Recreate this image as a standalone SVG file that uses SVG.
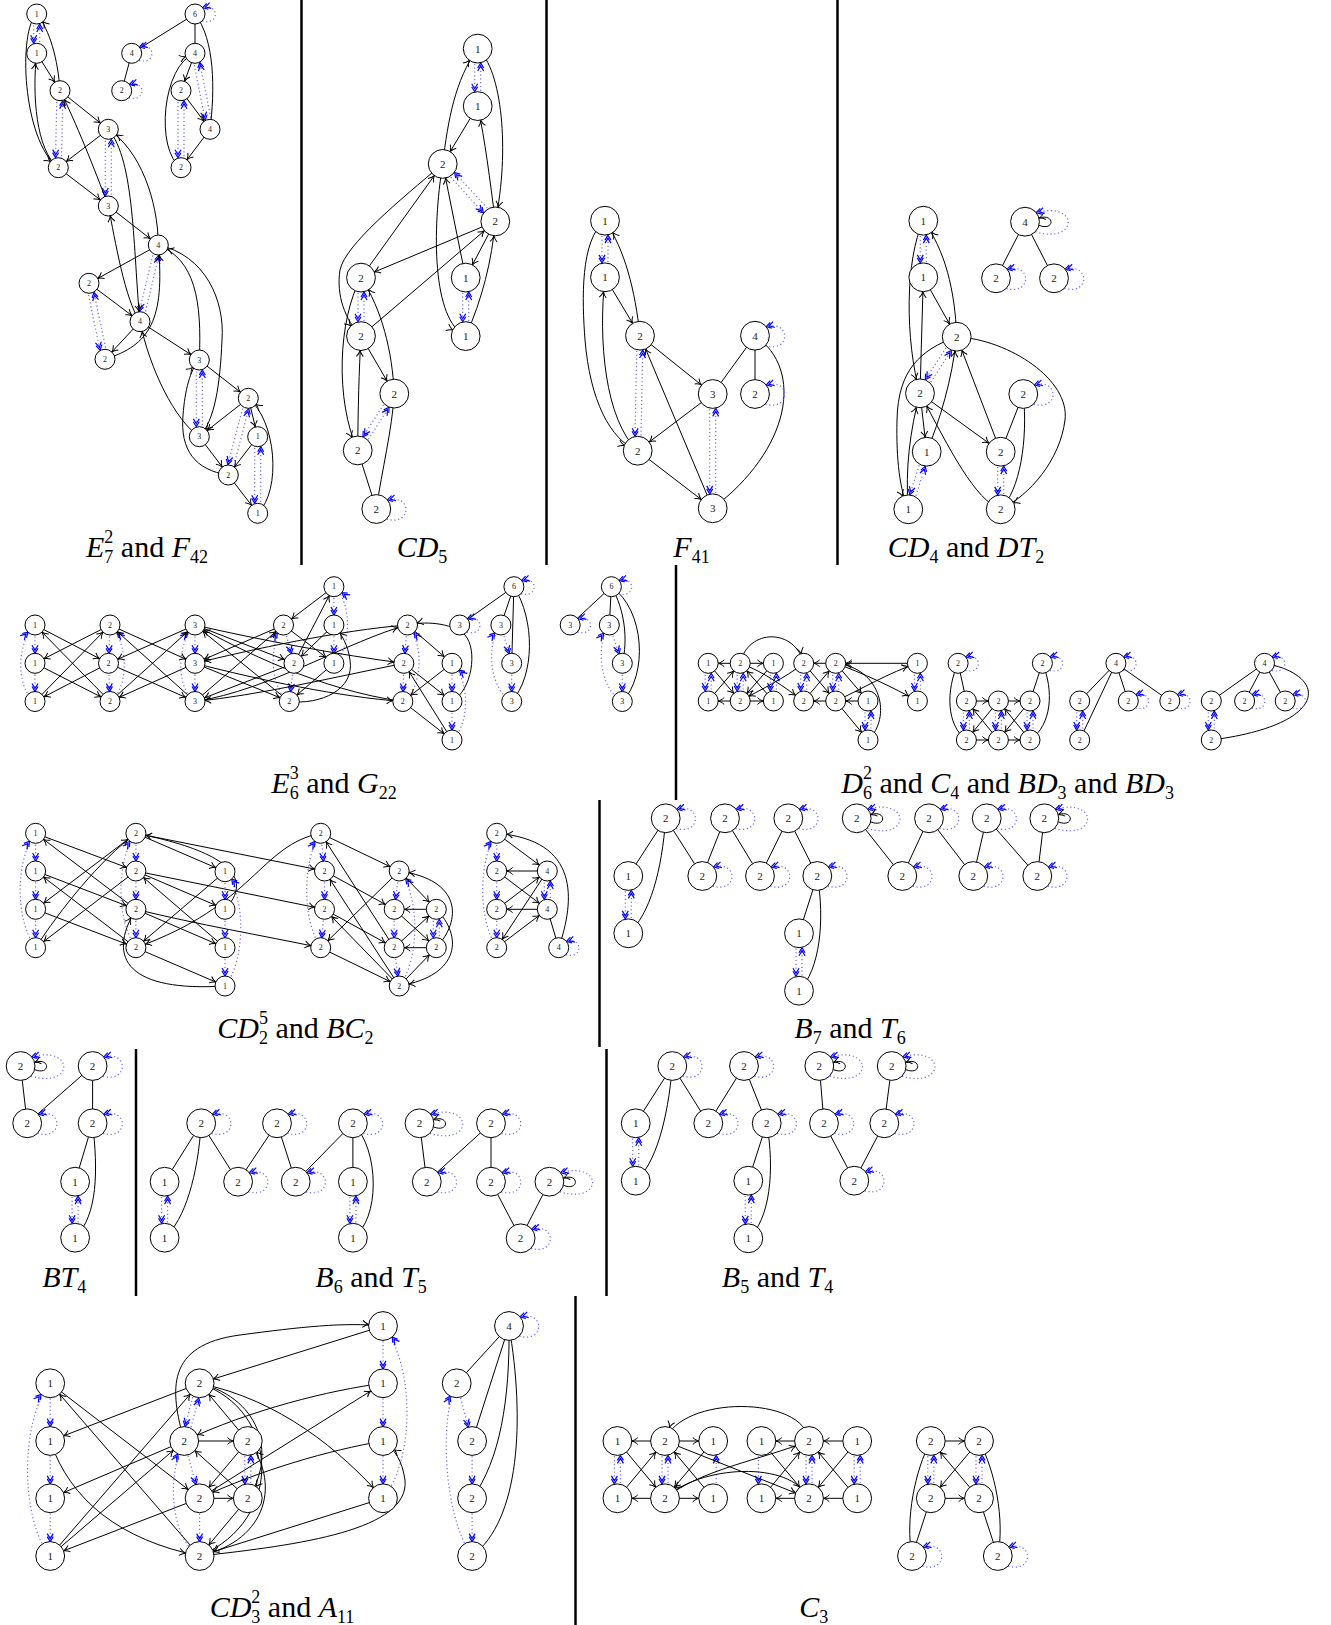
<svg xmlns="http://www.w3.org/2000/svg" xmlns:xlink="http://www.w3.org/1999/xlink" width="1331" height="1625" viewBox="0 0 1331 1625">
<style>
.e{fill:none;stroke:#000;stroke-width:1}
.s{marker-end:url(#as)}
.b{marker-end:url(#ab)}
.u{fill:none;stroke:#000;stroke-width:1}
.d{fill:none;stroke:#6a6aff;stroke-width:1.2;stroke-dasharray:1.2 2.6}
.ds{marker-end:url(#bs)}
.db{marker-end:url(#bb)}
.nd circle{fill:#fff;stroke:#000;stroke-width:1}
.nd text{font-family:"Liberation Serif",serif;text-anchor:middle;dominant-baseline:central;fill:#222}
.f8{font-size:8px}
.f11{font-size:11px}
.cap{font-family:"Liberation Serif",serif;font-size:30px;text-anchor:middle;fill:#000}
.i{font-style:italic}
.sb{font-size:18px}
.dv{stroke:#000;stroke-width:2.5}
</style>
<defs>
<marker id="as" markerUnits="userSpaceOnUse" markerWidth="30" markerHeight="14" viewBox="-15 -7 30 14" refX="10" refY="0" orient="auto"><path d="M-6,-3.5 C-4,-1.4 -1.5,-0.4 0,0 C-1.5,0.4 -4,1.4 -6,3.5" fill="none" stroke="#000" stroke-width="1"/></marker>
<marker id="ab" markerUnits="userSpaceOnUse" markerWidth="40" markerHeight="14" viewBox="-20 -7 40 14" refX="14.4" refY="0" orient="auto"><path d="M-6,-3.5 C-4,-1.4 -1.5,-0.4 0,0 C-1.5,0.4 -4,1.4 -6,3.5" fill="none" stroke="#000" stroke-width="1"/></marker>
<marker id="a0" markerUnits="userSpaceOnUse" markerWidth="20" markerHeight="14" viewBox="-10 -7 20 14" refX="0" refY="0" orient="auto"><path d="M-6,-3.5 C-4,-1.4 -1.5,-0.4 0,0 C-1.5,0.4 -4,1.4 -6,3.5" fill="none" stroke="#000" stroke-width="1"/></marker>
<marker id="bs" markerUnits="userSpaceOnUse" markerWidth="30" markerHeight="14" viewBox="-15 -7 30 14" refX="10" refY="0" orient="auto"><path d="M-5,-3 L0,0 L-5,3 M-8,-3 L-3,0 L-8,3" fill="none" stroke="#0000ff" stroke-width="1.2"/></marker>
<marker id="bb" markerUnits="userSpaceOnUse" markerWidth="40" markerHeight="14" viewBox="-20 -7 40 14" refX="14.4" refY="0" orient="auto"><path d="M-5,-3 L0,0 L-5,3 M-8,-3 L-3,0 L-8,3" fill="none" stroke="#0000ff" stroke-width="1.2"/></marker>
<marker id="b0" markerUnits="userSpaceOnUse" markerWidth="20" markerHeight="14" viewBox="-10 -7 20 14" refX="0" refY="0" orient="auto"><path d="M-5,-3 L0,0 L-5,3 M-8,-3 L-3,0 L-8,3" fill="none" stroke="#0000ff" stroke-width="1.2"/></marker>
<path id="LS" d="M7.2,7 C24.5,12 24.5,-11 7.7,-6.3" fill="none" stroke="#6a6aff" stroke-width="1.2" stroke-dasharray="1.2 2.6" marker-end="url(#b0)"/>
<path id="LB" d="M10.4,10.1 C36,17.3 36,-15.8 11.2,-9.1" fill="none" stroke="#6a6aff" stroke-width="1.2" stroke-dasharray="1.2 2.6" marker-end="url(#b0)"/>
<path id="LW" d="M10.4,10.1 C54,23 54,-21 11.2,-9.1" fill="none" stroke="#6a6aff" stroke-width="1.2" stroke-dasharray="1.2 2.6" marker-end="url(#b0)"/>
<path id="SL" d="M14,3.6 C30,10 30,-9 14,-3.6" fill="none" stroke="#000" stroke-width="1" marker-end="url(#a0)"/>
</defs>
<rect width="1331" height="1625" fill="#fff"/>
<g id="dividers">
<line class="dv" x1="301.5" y1="0" x2="301.5" y2="565"/>
<line class="dv" x1="546.5" y1="0" x2="546.5" y2="565"/>
<line class="dv" x1="837.5" y1="0" x2="837.5" y2="565"/>
<line class="dv" x1="676" y1="565" x2="676" y2="800"/>
<line class="dv" x1="599.5" y1="800" x2="599.5" y2="1047"/>
<line class="dv" x1="136" y1="1049" x2="136" y2="1296"/>
<line class="dv" x1="606.5" y1="1049" x2="606.5" y2="1296"/>
<line class="dv" x1="575.5" y1="1296" x2="575.5" y2="1625"/>
</g>
<g id="connectors">
<!-- E7^2 -->
<line class="d ds" x1="33.7" y1="14" x2="33.7" y2="53.3"/><line class="d ds" x1="39.7" y1="53.3" x2="39.7" y2="14"/>
<line class="d ds" x1="57" y1="90.7" x2="55.3" y2="167.7"/><line class="d ds" x1="61.3" y1="167.7" x2="63" y2="90.7"/>
<line class="d ds" x1="105.3" y1="129.3" x2="105.3" y2="206"/><line class="d ds" x1="111.3" y1="206" x2="111.3" y2="129.3"/>
<line class="d ds" x1="155.4" y1="244.3" x2="137.1" y2="321"/><line class="d ds" x1="142.9" y1="322.4" x2="161.2" y2="245.7"/>
<line class="d ds" x1="86.1" y1="283.9" x2="102.1" y2="359.9"/><line class="d ds" x1="107.9" y1="358.7" x2="91.9" y2="282.7"/>
<line class="d ds" x1="196.3" y1="360" x2="196.3" y2="436.7"/><line class="d ds" x1="202.3" y1="436.7" x2="202.3" y2="360"/>
<line class="d ds" x1="245.4" y1="397.5" x2="225.4" y2="474.2"/><line class="d ds" x1="231.2" y1="475.8" x2="251.2" y2="399.1"/>
<line class="d ds" x1="254.7" y1="436.7" x2="254.7" y2="513.3"/><line class="d ds" x1="260.7" y1="513.3" x2="260.7" y2="436.7"/>
<path class="e s" d="M36.7,14 C18,30 22,140 58.3,167.7"/>
<path class="e s" d="M60,90.7 C58,60 50,30 36.7,14"/>
<line class="e s" x1="36.7" y1="53.3" x2="60" y2="90.7"/>
<path class="e s" d="M58.3,167.7 C36,150 32,95 36.7,53.3"/>
<line class="e s" x1="60" y1="90.7" x2="108.3" y2="129.3"/>
<line class="e s" x1="108.3" y1="129.3" x2="58.3" y2="167.7"/>
<line class="e s" x1="58.3" y1="167.7" x2="108.3" y2="206"/>
<path class="e s" d="M108.3,206 C95,170 75,120 60,90.7"/>
<line class="e s" x1="108.3" y1="206" x2="158.3" y2="245"/>
<path class="e s" d="M158.3,245 C158,200 140,150 108.3,129.3"/>
<path class="e s" d="M108.3,129.3 C135,160 133,250 140,321.7"/>
<path class="e s" d="M140,321.7 C125,300 115,240 108.3,206"/>
<line class="e s" x1="158.3" y1="245" x2="89" y2="283.3"/>
<line class="e s" x1="89" y1="283.3" x2="140" y2="321.7"/>
<line class="e s" x1="140" y1="321.7" x2="105" y2="359.3"/>
<path class="e s" d="M105,359.3 C150,345 165,320 158.3,245"/>
<line class="e s" x1="140" y1="321.7" x2="199.3" y2="360"/>
<path class="e s" d="M199.3,360 C202,300 195,260 158.3,245"/>
<path class="e s" d="M158.3,245 C205,255 225,300 222,340 C220,385 215,420 199.3,436.7"/>
<line class="e s" x1="199.3" y1="360" x2="248.3" y2="398.3"/>
<line class="e s" x1="248.3" y1="398.3" x2="199.3" y2="436.7"/>
<line class="e s" x1="248.3" y1="398.3" x2="257.7" y2="436.7"/>
<line class="e s" x1="257.7" y1="436.7" x2="228.3" y2="475"/>
<line class="e s" x1="199.3" y1="436.7" x2="228.3" y2="475"/>
<path class="e s" d="M228.3,475 C195,470 180,450 183,415 C185,390 190,370 199.3,360"/>
<line class="e s" x1="228.3" y1="475" x2="257.7" y2="513.3"/>
<path class="e s" d="M257.7,513.3 C282,490 276,420 248.3,398.3"/>
<path class="e s" d="M199.3,436.7 C175,420 150,370 140,321.7"/>
<!-- F42 -->
<line class="d ds" x1="192.1" y1="53.9" x2="207.1" y2="129.9"/><line class="d ds" x1="212.9" y1="128.7" x2="197.9" y2="52.7"/>
<line class="d ds" x1="178" y1="90.7" x2="178" y2="167.7"/><line class="d ds" x1="184" y1="167.7" x2="184" y2="90.7"/>
<line class="u" x1="195" y1="14" x2="131.7" y2="53.3"/>
<line class="u" x1="131.7" y1="53.3" x2="121.7" y2="90.7"/>
<line class="u" x1="195" y1="14" x2="195" y2="53.3"/>
<path class="u" d="M195,14 C215,40 215,90 210,129.3"/>
<line class="e s" x1="195" y1="53.3" x2="181" y2="90.7"/>
<line class="e s" x1="181" y1="90.7" x2="210" y2="129.3"/>
<line class="e s" x1="210" y1="129.3" x2="181" y2="167.7"/>
<path class="e s" d="M181,167.7 C155,150 162,65 195,53.3"/>
<use href="#LS" x="195" y="14"/><use href="#LS" x="131.7" y="53.3"/><use href="#LS" x="121.7" y="90.7"/>
<!-- CD5 -->
<line class="d db" x1="474.7" y1="48.6" x2="474.7" y2="106.1"/><line class="d db" x1="480.7" y1="106.1" x2="480.7" y2="48.6"/>
<path class="e b" d="M442.7,163.9 C448,120 455,80 477.7,48.6"/>
<path class="e b" d="M477.7,48.6 C502,70 510,150 495.3,221.4"/>
<line class="e b" x1="477.7" y1="106.1" x2="442.7" y2="163.9"/>
<path class="e b" d="M495.3,221.4 C490,180 485,140 477.7,106.1"/>
<line class="d db" x1="440.5" y1="165.9" x2="493.1" y2="223.4"/><line class="d db" x1="497.5" y1="219.4" x2="444.9" y2="161.9"/>
<path class="e b" d="M442.7,163.9 C400,200 345,245 340,270 C336,295 345,320 361,336.1"/>
<line class="e b" x1="361" y1="277.6" x2="442.7" y2="163.9"/>
<line class="e b" x1="495.3" y1="221.4" x2="361" y2="277.6"/>
<line class="e b" x1="361" y1="336.1" x2="495.3" y2="221.4"/>
<line class="e b" x1="495.3" y1="221.4" x2="465.7" y2="277.6"/>
<path class="e b" d="M465.7,336.1 C482,300 492,260 495.3,221.4"/>
<path class="e b" d="M465.7,277.6 C458,240 450,200 442.7,163.9"/>
<path class="e b" d="M442.7,163.9 C432,230 432,320 465.7,336.1"/>
<line class="d db" x1="462.7" y1="277.6" x2="462.7" y2="336.1"/><line class="d db" x1="468.7" y1="336.1" x2="468.7" y2="277.6"/>
<line class="d db" x1="358" y1="277.6" x2="358" y2="336.1"/><line class="d db" x1="364" y1="336.1" x2="364" y2="277.6"/>
<path class="e b" d="M361,277.6 C338,320 335,400 357.7,450.4"/>
<line class="e b" x1="361" y1="336.1" x2="394.3" y2="393.6"/>
<path class="e b" d="M394.3,393.6 C392,350 382,310 361,277.6"/>
<path class="e b" d="M357.7,450.4 C358,410 359,370 361,336.1"/>
<line class="d db" x1="391.8" y1="392" x2="355.2" y2="448.8"/><line class="d db" x1="360.2" y1="452" x2="396.8" y2="395.2"/>
<line class="u" x1="357.7" y1="450.4" x2="376.3" y2="509"/>
<path class="u" d="M376.3,509 C382,470 392,430 394.3,393.6"/>
<use href="#LB" x="376.3" y="509"/>
<!-- F41 -->
<line class="d db" x1="602" y1="220.7" x2="602" y2="277.3"/><line class="d db" x1="608" y1="277.3" x2="608" y2="220.7"/>
<path class="e b" d="M605,220.7 C580,240 582,300 585,340 C590,400 610,440 637.7,450.7"/>
<path class="e b" d="M640,335.7 C635,290 625,250 605,220.7"/>
<line class="e b" x1="605" y1="277.3" x2="640" y2="335.7"/>
<path class="e b" d="M637.7,450.7 C605,420 598,340 605,277.3"/>
<line class="d db" x1="637" y1="335.7" x2="634.7" y2="450.7"/><line class="d db" x1="640.7" y1="450.7" x2="643" y2="335.7"/>
<line class="e b" x1="640" y1="335.7" x2="712.7" y2="394"/>
<line class="e b" x1="712.7" y1="394" x2="637.7" y2="450.7"/>
<line class="e b" x1="637.7" y1="450.7" x2="712.7" y2="508.3"/>
<line class="e b" x1="712.7" y1="508.3" x2="640" y2="335.7"/>
<line class="d db" x1="709.7" y1="394" x2="709.7" y2="508.3"/><line class="d db" x1="715.7" y1="508.3" x2="715.7" y2="394"/>
<line class="u" x1="755" y1="335.7" x2="712.7" y2="394"/>
<line class="u" x1="755" y1="335.7" x2="755" y2="394"/>
<path class="u" d="M755,335.7 C805,370 790,450 712.7,508.3"/>
<use href="#LB" x="755" y="335.7"/><use href="#LB" x="755" y="394"/>
<!-- CD4 -->
<line class="d db" x1="920.3" y1="220.7" x2="920.3" y2="277.3"/><line class="d db" x1="926.3" y1="277.3" x2="926.3" y2="220.7"/>
<path class="e b" d="M923.3,220.7 C905,260 905,340 920,393.3"/>
<path class="e b" d="M956.7,336.7 C955,290 945,250 923.3,220.7"/>
<line class="e b" x1="923.3" y1="277.3" x2="956.7" y2="336.7"/>
<line class="e b" x1="920" y1="393.3" x2="923.3" y2="277.3"/>
<line class="d db" x1="954.2" y1="335.1" x2="917.5" y2="391.7"/><line class="d db" x1="922.5" y1="394.9" x2="959.2" y2="338.3"/>
<path class="e b" d="M956.7,336.7 C920,350 898,370 897,420 C896,460 900,490 908.3,509.3"/>
<path class="e b" d="M926.7,451.7 C940,420 952,380 956.7,336.7"/>
<line class="e b" x1="920" y1="393.3" x2="926.7" y2="451.7"/>
<path class="e b" d="M908.3,509.3 C905,470 910,430 920,393.3"/>
<line class="d db" x1="923.8" y1="450.8" x2="905.4" y2="508.4"/><line class="d db" x1="911.2" y1="510.2" x2="929.6" y2="452.6"/>
<line class="e b" x1="920" y1="393.3" x2="1000.7" y2="451.7"/>
<line class="e b" x1="1000.7" y1="451.7" x2="956.7" y2="336.7"/>
<path class="e b" d="M1000.7,509.3 C975,500 950,450 920,393.3"/>
<path class="e b" d="M956.7,336.7 C1010,340 1070,380 1065,420 C1060,460 1030,495 1000.7,509.3"/>
<line class="d db" x1="997.7" y1="451.7" x2="997.7" y2="509.3"/><line class="d db" x1="1003.7" y1="509.3" x2="1003.7" y2="451.7"/>
<line class="u" x1="1023.3" y1="394" x2="1000.7" y2="451.7"/>
<path class="u" d="M1023.3,394 C1028,440 1020,490 1000.7,509.3"/>
<use href="#LB" x="1023.3" y="394"/>
<!-- DT2 -->
<line class="u" x1="1025" y1="221.7" x2="996" y2="278.3"/><line class="u" x1="1025" y1="221.7" x2="1054" y2="278.3"/>
<use href="#SL" x="1025" y="221.7"/><use href="#LW" x="1025" y="221.7"/><use href="#LB" x="996" y="278.3"/><use href="#LB" x="1054" y="278.3"/>
<!-- E6^3 -->
<line class="d ds" x1="35" y1="625" x2="35" y2="663.3"/><line class="d ds" x1="35" y1="663.3" x2="35" y2="701.5"/><path class="d ds" d="M35,701.5 C17,690 15,645 35,625"/>
<line class="d ds" x1="110" y1="625" x2="108.5" y2="663.3"/><line class="d ds" x1="108.5" y1="663.3" x2="110" y2="701.5"/><path class="d ds" d="M110,701.5 C128,690 130,645 110,625"/>
<line class="d ds" x1="195" y1="625" x2="195" y2="663.3"/><line class="d ds" x1="195" y1="663.3" x2="195" y2="701.5"/><path class="d ds" d="M195,701.5 C177,690 175,645 195,625"/>
<line class="d ds" x1="283.5" y1="625" x2="294" y2="663.3"/><line class="d ds" x1="294" y1="663.3" x2="289.3" y2="701.5"/><path class="d ds" d="M289.3,701.5 C270,690 268,645 283.5,625"/>
<line class="d ds" x1="333.9" y1="586.7" x2="333.9" y2="625"/><line class="d ds" x1="333.9" y1="625" x2="333.9" y2="663.3"/><path class="d ds" d="M333.9,663.3 C352,650 352,600 333.9,586.7"/>
<line class="d ds" x1="407.5" y1="625" x2="403.8" y2="663.3"/><line class="d ds" x1="403.8" y1="663.3" x2="402.8" y2="701.5"/><path class="d ds" d="M402.8,701.5 C422,690 425,645 407.5,625"/>
<line class="d ds" x1="452" y1="663.3" x2="452" y2="701.5"/><line class="d ds" x1="452" y1="701.5" x2="452" y2="740"/><path class="d ds" d="M452,740 C470,725 470,680 452,663.3"/>
<line class="e s" x1="35" y1="625" x2="108.5" y2="663.3"/>
<line class="e s" x1="110" y1="625" x2="35" y2="663.3"/>
<line class="e s" x1="35" y1="663.3" x2="110" y2="701.5"/>
<line class="e s" x1="108.5" y1="663.3" x2="35" y2="701.5"/>
<line class="e s" x1="35" y1="701.5" x2="110" y2="625"/>
<line class="e s" x1="110" y1="701.5" x2="35" y2="625"/>
<line class="e s" x1="195" y1="625" x2="108.5" y2="663.3"/>
<line class="e s" x1="110" y1="625" x2="195" y2="663.3"/>
<line class="e s" x1="195" y1="663.3" x2="110" y2="701.5"/>
<line class="e s" x1="108.5" y1="663.3" x2="195" y2="701.5"/>
<line class="e s" x1="195" y1="701.5" x2="110" y2="625"/>
<line class="e s" x1="110" y1="701.5" x2="195" y2="625"/>
<line class="e s" x1="195" y1="625" x2="294" y2="663.3"/>
<path class="e s" d="M195,625 C260,640 340,655 403.8,663.3"/>
<line class="e s" x1="283.5" y1="625" x2="195" y2="663.3"/>
<path class="e s" d="M407.5,625 C340,630 250,650 195,663.3"/>
<line class="e s" x1="195" y1="663.3" x2="289.3" y2="701.5"/>
<path class="e s" d="M195,663.3 C260,680 340,697 402.8,701.5"/>
<line class="e s" x1="294" y1="663.3" x2="195" y2="701.5"/>
<path class="e s" d="M403.8,663.3 C330,678 260,695 195,701.5"/>
<line class="e s" x1="195" y1="701.5" x2="283.5" y2="625"/>
<path class="e s" d="M195,701.5 C270,690 350,640 407.5,625"/>
<line class="e s" x1="289.3" y1="701.5" x2="195" y2="625"/>
<path class="e s" d="M402.8,701.5 C320,690 240,650 195,625"/>
<line class="e s" x1="333.9" y1="586.7" x2="283.5" y2="625"/>
<line class="e s" x1="283.5" y1="625" x2="333.9" y2="663.3"/>
<line class="e s" x1="333.9" y1="625" x2="294" y2="663.3"/>
<line class="e s" x1="294" y1="663.3" x2="333.9" y2="586.7"/>
<line class="e s" x1="333.9" y1="663.3" x2="289.3" y2="701.5"/>
<path class="e s" d="M289.3,701.5 C320,705 355,690 350,660 C348,645 342,635 333.9,625"/>
<line class="e s" x1="407.5" y1="625" x2="452" y2="663.3"/>
<line class="e s" x1="452" y1="663.3" x2="402.8" y2="701.5"/>
<line class="e s" x1="403.8" y1="663.3" x2="452" y2="701.5"/>
<line class="e s" x1="452" y1="740" x2="403.8" y2="663.3"/>
<line class="e s" x1="402.8" y1="701.5" x2="452" y2="740"/>
<path class="e s" d="M452,701.5 C472,690 478,650 465,635 C455,625 430,620 407.5,625"/>
<!-- G22 -->
<line class="u" x1="513.9" y1="586.7" x2="459.7" y2="625"/>
<line class="u" x1="513.9" y1="586.7" x2="500.9" y2="625"/>
<line class="u" x1="513.9" y1="586.7" x2="511.7" y2="663.3"/>
<path class="u" d="M513.9,586.7 C535,620 535,675 511.7,701.5"/>
<line class="d ds" x1="500.9" y1="625" x2="511.7" y2="663.3"/><line class="d ds" x1="511.7" y1="663.3" x2="511.7" y2="701.5"/><path class="d ds" d="M511.7,701.5 C490,690 485,645 500.9,625"/>
<use href="#LS" x="513.9" y="586.7"/><use href="#LS" x="459.7" y="625"/>
<line class="u" x1="611.4" y1="586.7" x2="570.2" y2="625"/>
<line class="u" x1="611.4" y1="586.7" x2="609.3" y2="625"/>
<path class="u" d="M611.4,586.7 C625,610 628,640 622.3,663.3"/>
<path class="u" d="M611.4,586.7 C645,610 648,675 622.3,701.5"/>
<line class="d ds" x1="609.3" y1="625" x2="622.3" y2="663.3"/><line class="d ds" x1="622.3" y1="663.3" x2="622.3" y2="701.5"/><path class="d ds" d="M622.3,701.5 C600,690 595,645 609.3,625"/>
<use href="#LS" x="611.4" y="586.7"/><use href="#LS" x="570.2" y="625"/>
<!-- D6^2 -->
<line class="e s" x1="740.2" y1="663.3" x2="708.2" y2="663.3"/>
<line class="e s" x1="740.2" y1="663.3" x2="773.4" y2="663.3"/>
<line class="e s" x1="740.2" y1="701" x2="708.2" y2="701"/>
<line class="e s" x1="740.2" y1="701" x2="773.4" y2="701"/>
<line class="d ds" x1="705.2" y1="663.3" x2="705.2" y2="701"/><line class="d ds" x1="711.2" y1="701" x2="711.2" y2="663.3"/>
<line class="d ds" x1="737.2" y1="663.3" x2="737.2" y2="701"/><line class="d ds" x1="743.2" y1="701" x2="743.2" y2="663.3"/>
<line class="d ds" x1="770.4" y1="663.3" x2="770.4" y2="701"/><line class="d ds" x1="776.4" y1="701" x2="776.4" y2="663.3"/>
<line class="e s" x1="708.2" y1="663.3" x2="740.2" y2="701"/>
<line class="e s" x1="708.2" y1="701" x2="740.2" y2="663.3"/>
<line class="e s" x1="773.4" y1="663.3" x2="740.2" y2="701"/>
<line class="e s" x1="773.4" y1="701" x2="740.2" y2="663.3"/>
<path class="e s" d="M740.2,663.3 C748,628 795,628 803.7,663.3"/>
<line class="e s" x1="835.7" y1="663.3" x2="803.7" y2="663.3"/>
<line class="e s" x1="835.7" y1="701" x2="803.7" y2="701"/>
<line class="d ds" x1="800.7" y1="663.3" x2="800.7" y2="701"/><line class="d ds" x1="806.7" y1="701" x2="806.7" y2="663.3"/>
<line class="d ds" x1="832.7" y1="663.3" x2="832.7" y2="701"/><line class="d ds" x1="838.7" y1="701" x2="838.7" y2="663.3"/>
<path class="e s" d="M803.7,663.3 C785,678 760,690 740.2,701"/>
<path class="e s" d="M740.2,663.3 C765,672 785,688 803.7,701"/>
<line class="e s" x1="803.7" y1="663.3" x2="835.7" y2="701"/>
<line class="e s" x1="803.7" y1="701" x2="835.7" y2="663.3"/>
<line class="e s" x1="917.4" y1="663.3" x2="835.7" y2="663.3"/>
<line class="e s" x1="835.7" y1="663.3" x2="868" y2="701"/>
<line class="e s" x1="868" y1="701" x2="835.7" y2="701"/>
<path class="e s" d="M835.7,701 C860,690 890,672 917.4,663.3"/>
<path class="e s" d="M835.7,663.3 C860,672 895,688 917.4,701"/>
<line class="e s" x1="835.7" y1="701" x2="868" y2="740"/>
<path class="e s" d="M868,740 C892,718 882,668 835.7,663.3"/>
<line class="d ds" x1="865" y1="701" x2="865" y2="740"/><line class="d ds" x1="871" y1="740" x2="871" y2="701"/>
<line class="d ds" x1="914.4" y1="663.3" x2="914.4" y2="701"/><line class="d ds" x1="920.4" y1="701" x2="920.4" y2="663.3"/>
<!-- C4 -->
<line class="u" x1="958.1" y1="663.3" x2="966.4" y2="701"/>
<path class="u" d="M958.1,663.3 C946,690 946,725 966.4,740"/>
<line class="u" x1="1042.4" y1="663.3" x2="1030" y2="701"/>
<path class="u" d="M1042.4,663.3 C1054,690 1052,725 1030,740"/>
<line class="e s" x1="966.4" y1="701" x2="998.4" y2="701"/>
<line class="e s" x1="998.4" y1="701" x2="1030" y2="701"/>
<line class="e s" x1="966.4" y1="740" x2="998.4" y2="740"/>
<line class="e s" x1="998.4" y1="740" x2="1030" y2="740"/>
<line class="d ds" x1="963.4" y1="701" x2="963.4" y2="740"/><line class="d ds" x1="969.4" y1="740" x2="969.4" y2="701"/>
<line class="d ds" x1="995.4" y1="701" x2="995.4" y2="740"/><line class="d ds" x1="1001.4" y1="740" x2="1001.4" y2="701"/>
<line class="d ds" x1="1027" y1="701" x2="1027" y2="740"/><line class="d ds" x1="1033" y1="740" x2="1033" y2="701"/>
<line class="e s" x1="998.4" y1="701" x2="966.4" y2="740"/>
<line class="e s" x1="998.4" y1="740" x2="966.4" y2="701"/>
<line class="e s" x1="1030" y1="701" x2="998.4" y2="740"/>
<line class="e s" x1="1030" y1="740" x2="998.4" y2="701"/>
<use href="#LS" x="958.1" y="663.3"/><use href="#LS" x="1042.4" y="663.3"/>
<!-- BD3 -->
<line class="u" x1="1115.9" y1="663.3" x2="1079.7" y2="701"/>
<line class="u" x1="1115.9" y1="663.3" x2="1128.3" y2="701"/>
<line class="u" x1="1115.9" y1="663.3" x2="1169.8" y2="701"/>
<line class="u" x1="1115.9" y1="663.3" x2="1079.7" y2="740"/>
<line class="d ds" x1="1076.7" y1="701" x2="1076.7" y2="740"/><line class="d ds" x1="1082.7" y1="740" x2="1082.7" y2="701"/>
<use href="#LS" x="1115.9" y="663.3"/><use href="#LS" x="1128.3" y="701"/><use href="#LS" x="1169.8" y="701"/>
<line class="u" x1="1264.5" y1="663.3" x2="1211.3" y2="701"/>
<line class="u" x1="1264.5" y1="663.3" x2="1244.6" y2="701"/>
<line class="u" x1="1264.5" y1="663.3" x2="1285.2" y2="701"/>
<path class="u" d="M1264.5,663.3 C1330,675 1330,725 1211.3,740"/>
<line class="d ds" x1="1208.3" y1="701" x2="1208.3" y2="740"/><line class="d ds" x1="1214.3" y1="740" x2="1214.3" y2="701"/>
<use href="#LS" x="1264.5" y="663.3"/><use href="#LS" x="1244.6" y="701"/><use href="#LS" x="1285.2" y="701"/>
<!-- CD2^5 -->
<line class="d ds" x1="35.6" y1="833.3" x2="35.6" y2="871"/><line class="d ds" x1="35.6" y1="871" x2="35.6" y2="909.3"/><line class="d ds" x1="35.6" y1="909.3" x2="35.6" y2="947.7"/><path class="d ds" d="M35.6,947.7 C15,920 15,860 35.6,833.3"/>
<line class="d ds" x1="135.9" y1="833.3" x2="135.9" y2="871"/><line class="d ds" x1="135.9" y1="871" x2="135.9" y2="909.3"/><line class="d ds" x1="135.9" y1="909.3" x2="135.9" y2="947.7"/><path class="d ds" d="M135.9,947.7 C116,920 116,860 135.9,833.3"/>
<line class="d ds" x1="225" y1="871.7" x2="225" y2="909.3"/><line class="d ds" x1="225" y1="909.3" x2="225" y2="947.7"/><line class="d ds" x1="225" y1="947.7" x2="225" y2="986"/><path class="d ds" d="M225,986 C246,960 246,895 225,871.7"/>
<line class="d ds" x1="320.7" y1="833.3" x2="324.5" y2="871"/><line class="d ds" x1="324.5" y1="871" x2="324.5" y2="909.3"/><line class="d ds" x1="324.5" y1="909.3" x2="320.7" y2="947.7"/><path class="d ds" d="M320.7,947.7 C302,920 302,860 320.7,833.3"/>
<line class="d ds" x1="399.2" y1="871" x2="394.2" y2="909.3"/><line class="d ds" x1="394.2" y1="909.3" x2="394.2" y2="947.7"/><line class="d ds" x1="394.2" y1="947.7" x2="399.2" y2="986"/><path class="d ds" d="M399.2,986 C420,960 420,895 399.2,871"/>
<line class="d ds" x1="433.3" y1="909.3" x2="433.3" y2="947.7"/><line class="d ds" x1="439.3" y1="947.7" x2="439.3" y2="909.3"/>
<line class="e s" x1="35.6" y1="833.3" x2="135.9" y2="871"/>
<line class="e s" x1="135.9" y1="833.3" x2="35.6" y2="909.3"/>
<line class="e s" x1="135.9" y1="909.3" x2="35.6" y2="833.3"/>
<line class="e s" x1="35.6" y1="871" x2="135.9" y2="909.3"/>
<line class="e s" x1="135.9" y1="947.7" x2="35.6" y2="871"/>
<line class="e s" x1="35.6" y1="909.3" x2="135.9" y2="947.7"/>
<line class="e s" x1="135.9" y1="871" x2="35.6" y2="947.7"/>
<path class="e s" d="M35.6,947.7 C60,910 100,860 135.9,833.3"/>
<line class="e s" x1="135.9" y1="833.3" x2="225" y2="871.7"/>
<line class="e s" x1="135.9" y1="871" x2="225" y2="909.3"/>
<line class="e s" x1="135.9" y1="909.3" x2="225" y2="947.7"/>
<line class="e s" x1="135.9" y1="947.7" x2="225" y2="986"/>
<line class="e s" x1="225" y1="871.7" x2="135.9" y2="947.7"/>
<path class="e s" d="M225,909.3 C248,885 245,855 135.9,833.3"/>
<line class="e s" x1="225" y1="947.7" x2="135.9" y2="871"/>
<path class="e s" d="M225,986 C130,992 105,960 135.9,909.3"/>
<line class="e s" x1="135.9" y1="833.3" x2="324.5" y2="871"/>
<line class="e s" x1="135.9" y1="871" x2="324.5" y2="909.3"/>
<path class="e s" d="M135.9,909.3 C200,925 260,935 320.7,947.7"/>
<path class="e s" d="M320.7,833.3 C260,845 255,905 135.9,947.7"/>
<line class="e s" x1="320.7" y1="833.3" x2="399.2" y2="871"/>
<line class="e s" x1="324.5" y1="871" x2="394.2" y2="909.3"/>
<line class="e s" x1="324.5" y1="909.3" x2="394.2" y2="947.7"/>
<line class="e s" x1="320.7" y1="947.7" x2="399.2" y2="986"/>
<line class="e s" x1="399.2" y1="871" x2="320.7" y2="947.7"/>
<line class="e s" x1="394.2" y1="947.7" x2="320.7" y2="833.3"/>
<line class="e s" x1="399.2" y1="986" x2="324.5" y2="871"/>
<line class="e s" x1="399.2" y1="986" x2="324.5" y2="909.3"/>
<line class="e s" x1="436.3" y1="909.3" x2="394.2" y2="909.3"/>
<line class="e s" x1="436.3" y1="947.7" x2="394.2" y2="947.7"/>
<line class="e s" x1="394.2" y1="909.3" x2="436.3" y2="947.7"/>
<line class="e s" x1="394.2" y1="947.7" x2="436.3" y2="909.3"/>
<line class="e s" x1="399.2" y1="986" x2="436.3" y2="947.7"/>
<line class="e s" x1="399.2" y1="871" x2="436.3" y2="909.3"/>
<path class="e s" d="M436.3,947.7 C462,920 462,880 399.2,871"/>
<path class="e s" d="M436.3,909.3 C462,935 462,975 399.2,986"/>
<!-- BC2 -->
<line class="d ds" x1="496.7" y1="833.3" x2="496.7" y2="871"/><line class="d ds" x1="496.7" y1="871" x2="496.7" y2="909.3"/><line class="d ds" x1="496.7" y1="909.3" x2="496.7" y2="947.7"/><path class="d ds" d="M496.7,947.7 C478,920 478,860 496.7,833.3"/>
<line class="d ds" x1="544.3" y1="871" x2="544.3" y2="909.3"/><line class="d ds" x1="550.3" y1="909.3" x2="550.3" y2="871"/>
<line class="e s" x1="496.7" y1="833.3" x2="547.3" y2="871"/>
<line class="e s" x1="547.3" y1="871" x2="496.7" y2="871"/>
<line class="e s" x1="547.3" y1="909.3" x2="496.7" y2="909.3"/>
<line class="e s" x1="496.7" y1="871" x2="547.3" y2="909.3"/>
<line class="e s" x1="496.7" y1="909.3" x2="547.3" y2="871"/>
<line class="e s" x1="496.7" y1="947.7" x2="547.3" y2="909.3"/>
<line class="e s" x1="547.3" y1="871" x2="496.7" y2="947.7"/>
<path class="e s" d="M558.7,947.7 C575,900 580,840 496.7,833.3"/>
<line class="u" x1="547.3" y1="909.3" x2="558.7" y2="947.7"/>
<use href="#LS" x="558.7" y="947.7"/>
<!-- B7 -->
<line class="u" x1="665.7" y1="818.3" x2="628.3" y2="876"/>
<path class="u" d="M665.7,818.3 C662,870 650,915 628.3,933.3"/>
<line class="u" x1="665.7" y1="818.3" x2="702.3" y2="876"/>
<line class="u" x1="725" y1="818.3" x2="702.3" y2="876"/>
<line class="u" x1="725" y1="818.3" x2="760" y2="876"/>
<line class="u" x1="788.3" y1="818.3" x2="760" y2="876"/>
<line class="u" x1="788.3" y1="818.3" x2="817.3" y2="876"/>
<line class="u" x1="817.3" y1="876" x2="799" y2="933.3"/>
<path class="u" d="M817.3,876 C825,920 820,970 799,990.7"/>
<line class="d db" x1="625.3" y1="876" x2="625.3" y2="933.3"/><line class="d db" x1="631.3" y1="933.3" x2="631.3" y2="876"/>
<line class="d db" x1="796" y1="933.3" x2="796" y2="990.7"/><line class="d db" x1="802" y1="990.7" x2="802" y2="933.3"/>
<use href="#LB" x="665.7" y="818.3"/><use href="#LB" x="702.3" y="876"/><use href="#LB" x="725" y="818.3"/><use href="#LB" x="760" y="876"/><use href="#LB" x="788.3" y="818.3"/><use href="#LB" x="817.3" y="876"/>
<!-- T6 -->
<line class="u" x1="856.7" y1="818.3" x2="902.3" y2="876"/>
<line class="u" x1="929" y1="818.3" x2="902.3" y2="876"/>
<line class="u" x1="929" y1="818.3" x2="973.3" y2="876"/>
<line class="u" x1="986.7" y1="818.3" x2="973.3" y2="876"/>
<line class="u" x1="986.7" y1="818.3" x2="1037.3" y2="876"/>
<line class="u" x1="1044.3" y1="818.3" x2="1037.3" y2="876"/>
<use href="#SL" x="856.7" y="818.3"/><use href="#LW" x="856.7" y="818.3"/><use href="#LB" x="902.3" y="876"/><use href="#LB" x="929" y="818.3"/><use href="#LB" x="973.3" y="876"/><use href="#LB" x="986.7" y="818.3"/><use href="#LB" x="1037.3" y="876"/><use href="#SL" x="1044.3" y="818.3"/><use href="#LW" x="1044.3" y="818.3"/>
<!-- BT4 -->
<line class="u" x1="20.6" y1="1066" x2="27.2" y2="1123.3"/>
<line class="u" x1="92.6" y1="1066" x2="27.2" y2="1123.3"/>
<line class="u" x1="92.6" y1="1066" x2="92.6" y2="1123.3"/>
<line class="u" x1="92.6" y1="1123.3" x2="75.1" y2="1181.7"/>
<path class="u" d="M92.6,1123.3 C98,1170 98,1215 75.1,1237.7"/>
<line class="d db" x1="72.1" y1="1181.7" x2="72.1" y2="1237.7"/><line class="d db" x1="78.1" y1="1237.7" x2="78.1" y2="1181.7"/>
<use href="#SL" x="20.6" y="1066"/><use href="#LW" x="20.6" y="1066"/><use href="#LB" x="92.6" y="1066"/><use href="#LB" x="27.2" y="1123.3"/><use href="#LB" x="92.6" y="1123.3"/>
<!-- B6 -->
<line class="u" x1="201.2" y1="1123.3" x2="164.6" y2="1181.7"/>
<path class="u" d="M201.2,1123.3 C198,1175 185,1220 164.6,1237.7"/>
<line class="u" x1="201.2" y1="1123.3" x2="238.1" y2="1181.7"/>
<line class="u" x1="277" y1="1123.3" x2="238.1" y2="1181.7"/>
<line class="u" x1="277" y1="1123.3" x2="295.7" y2="1181.7"/>
<line class="u" x1="352.9" y1="1123.3" x2="295.7" y2="1181.7"/>
<line class="u" x1="352.9" y1="1123.3" x2="352.9" y2="1181.7"/>
<path class="u" d="M352.9,1123.3 C380,1150 380,1220 352.9,1237.7"/>
<line class="d db" x1="161.6" y1="1181.7" x2="161.6" y2="1237.7"/><line class="d db" x1="167.6" y1="1237.7" x2="167.6" y2="1181.7"/>
<line class="d db" x1="349.9" y1="1181.7" x2="349.9" y2="1237.7"/><line class="d db" x1="355.9" y1="1237.7" x2="355.9" y2="1181.7"/>
<use href="#LB" x="201.2" y="1123.3"/><use href="#LB" x="238.1" y="1181.7"/><use href="#LB" x="277" y="1123.3"/><use href="#LB" x="295.7" y="1181.7"/><use href="#LB" x="352.9" y="1123.3"/>
<!-- T5 -->
<line class="u" x1="419.5" y1="1123.3" x2="426.8" y2="1181.7"/>
<line class="u" x1="491" y1="1123.3" x2="426.8" y2="1181.7"/>
<line class="u" x1="491" y1="1123.3" x2="491" y2="1181.7"/>
<line class="u" x1="491" y1="1181.7" x2="520.6" y2="1238.3"/>
<line class="u" x1="549.4" y1="1181.7" x2="520.6" y2="1238.3"/>
<use href="#SL" x="419.5" y="1123.3"/><use href="#LW" x="419.5" y="1123.3"/><use href="#LB" x="491" y="1123.3"/><use href="#LB" x="426.8" y="1181.7"/><use href="#LB" x="491" y="1181.7"/><use href="#SL" x="549.4" y="1181.7"/><use href="#LW" x="549.4" y="1181.7"/><use href="#LB" x="520.6" y="1238.3"/>
<!-- B5 -->
<line class="u" x1="672.3" y1="1066" x2="635.7" y2="1123.3"/>
<path class="u" d="M672.3,1066 C668,1120 655,1165 635.7,1180.7"/>
<line class="u" x1="672.3" y1="1066" x2="708.3" y2="1123.3"/>
<line class="u" x1="744" y1="1066" x2="708.3" y2="1123.3"/>
<line class="u" x1="744" y1="1066" x2="766.7" y2="1123.3"/>
<line class="u" x1="766.7" y1="1123.3" x2="748.3" y2="1180.7"/>
<path class="u" d="M766.7,1123.3 C775,1170 770,1220 748.3,1238.3"/>
<line class="d db" x1="632.7" y1="1123.3" x2="632.7" y2="1180.7"/><line class="d db" x1="638.7" y1="1180.7" x2="638.7" y2="1123.3"/>
<line class="d db" x1="745.3" y1="1180.7" x2="745.3" y2="1238.3"/><line class="d db" x1="751.3" y1="1238.3" x2="751.3" y2="1180.7"/>
<use href="#LB" x="672.3" y="1066"/><use href="#LB" x="708.3" y="1123.3"/><use href="#LB" x="744" y="1066"/><use href="#LB" x="766.7" y="1123.3"/>
<!-- T4 -->
<line class="u" x1="819.3" y1="1066" x2="824" y2="1123.3"/>
<line class="u" x1="891.7" y1="1066" x2="884.3" y2="1123.3"/>
<line class="u" x1="824" y1="1123.3" x2="854.3" y2="1180.7"/>
<line class="u" x1="884.3" y1="1123.3" x2="854.3" y2="1180.7"/>
<use href="#SL" x="819.3" y="1066"/><use href="#LW" x="819.3" y="1066"/><use href="#SL" x="891.7" y="1066"/><use href="#LW" x="891.7" y="1066"/><use href="#LB" x="824" y="1123.3"/><use href="#LB" x="884.3" y="1123.3"/><use href="#LB" x="854.3" y="1180.7"/>
<!-- CD3^2 -->
<line class="d db" x1="50.2" y1="1383.3" x2="50.2" y2="1441"/><line class="d db" x1="50.2" y1="1441" x2="50.2" y2="1498.3"/><line class="d db" x1="50.2" y1="1498.3" x2="50.2" y2="1556"/><path class="d db" d="M50.2,1556 C20,1520 20,1420 50.2,1383.3"/>
<line class="d db" x1="196.7" y1="1382.5" x2="181.3" y2="1440.2"/><line class="d db" x1="187.1" y1="1441.8" x2="202.5" y2="1384.1"/>
<line class="d db" x1="184.2" y1="1441" x2="199.6" y2="1498.3"/><line class="d db" x1="199.6" y1="1498.3" x2="199.6" y2="1556"/><path class="d db" d="M199.6,1556 C172,1540 165,1480 184.2,1441"/>
<line class="d db" x1="244.8" y1="1441" x2="244.8" y2="1498.3"/><line class="d db" x1="250.8" y1="1498.3" x2="250.8" y2="1441"/>
<line class="d db" x1="383" y1="1326" x2="383" y2="1383.3"/><line class="d db" x1="383" y1="1383.3" x2="383" y2="1441"/><line class="d db" x1="383" y1="1441" x2="383" y2="1498.3"/><path class="d db" d="M383,1498.3 C415,1460 415,1365 383,1326"/>
<path class="e b" d="M184.2,1441 C170,1390 165,1345 240,1335 C300,1327 345,1322 383,1326"/>
<line class="e b" x1="383" y1="1326" x2="199.6" y2="1383.3"/>
<line class="e b" x1="199.6" y1="1383.3" x2="50.2" y2="1441"/>
<line class="e b" x1="50.2" y1="1556" x2="199.6" y2="1383.3"/>
<path class="e b" d="M383,1383.3 C330,1390 250,1410 184.2,1441"/>
<path class="e b" d="M199.6,1383.3 C280,1400 340,1450 383,1498.3"/>
<path class="e b" d="M199.6,1383.3 C280,1410 285,1520 199.6,1556"/>
<path class="e b" d="M199.6,1383.3 C265,1400 275,1460 247.8,1498.3"/>
<line class="e b" x1="50.2" y1="1383.3" x2="199.6" y2="1498.3"/>
<line class="e b" x1="199.6" y1="1556" x2="50.2" y2="1383.3"/>
<path class="e b" d="M50.2,1441 C70,1500 120,1540 199.6,1556"/>
<line class="e b" x1="184.2" y1="1441" x2="50.2" y2="1498.3"/>
<line class="e b" x1="50.2" y1="1556" x2="184.2" y2="1441"/>
<line class="e b" x1="199.6" y1="1498.3" x2="50.2" y2="1556"/>
<line class="e b" x1="184.2" y1="1441" x2="247.8" y2="1441"/>
<line class="e b" x1="199.6" y1="1498.3" x2="247.8" y2="1498.3"/>
<line class="e b" x1="247.8" y1="1441" x2="199.6" y2="1498.3"/>
<line class="e b" x1="247.8" y1="1498.3" x2="199.6" y2="1556"/>
<line class="e b" x1="247.8" y1="1441" x2="199.6" y2="1383.3"/>
<line class="e b" x1="247.8" y1="1498.3" x2="184.2" y2="1441"/>
<path class="e b" d="M199.6,1556 C270,1540 280,1480 247.8,1441"/>
<line class="e b" x1="199.6" y1="1498.3" x2="383" y2="1383.3"/>
<path class="e b" d="M383,1441 C330,1450 260,1470 199.6,1498.3"/>
<line class="e b" x1="383" y1="1498.3" x2="199.6" y2="1556"/>
<path class="e b" d="M199.6,1556 C300,1545 410,1530 405,1480 C402,1460 395,1450 383,1441"/>
<!-- A11 -->
<line class="u" x1="509" y1="1326" x2="456.7" y2="1383.3"/>
<line class="u" x1="509" y1="1326" x2="472.1" y2="1441"/>
<path class="u" d="M509,1326 C510,1400 500,1460 472.1,1498.3"/>
<path class="u" d="M509,1326 C525,1420 520,1520 472.1,1556"/>
<line class="d db" x1="456.7" y1="1383.3" x2="472.1" y2="1441"/><line class="d db" x1="472.1" y1="1441" x2="472.1" y2="1498.3"/><line class="d db" x1="472.1" y1="1498.3" x2="472.1" y2="1556"/><path class="d db" d="M472.1,1556 C445,1520 438,1420 456.7,1383.3"/>
<use href="#LB" x="509" y="1326"/>
<!-- C3 -->
<line class="e b" x1="665" y1="1441" x2="617.4" y2="1441"/>
<line class="e b" x1="665" y1="1441" x2="713.2" y2="1441"/>
<line class="e b" x1="665" y1="1498.3" x2="617.4" y2="1498.3"/>
<line class="e b" x1="665" y1="1498.3" x2="713.2" y2="1498.3"/>
<line class="e b" x1="809" y1="1441" x2="761.4" y2="1441"/>
<line class="e b" x1="857.2" y1="1441" x2="809" y2="1441"/>
<line class="e b" x1="809" y1="1498.3" x2="761.4" y2="1498.3"/>
<line class="e b" x1="857.2" y1="1498.3" x2="809" y2="1498.3"/>
<line class="d db" x1="614.4" y1="1441" x2="614.4" y2="1498.3"/><line class="d db" x1="620.4" y1="1498.3" x2="620.4" y2="1441"/>
<line class="d db" x1="662" y1="1441" x2="662" y2="1498.3"/><line class="d db" x1="668" y1="1498.3" x2="668" y2="1441"/>
<line class="d db" x1="716.2" y1="1498.3" x2="716.2" y2="1441"/>
<line class="d db" x1="758.4" y1="1441" x2="758.4" y2="1498.3"/>
<line class="d db" x1="806" y1="1441" x2="806" y2="1498.3"/><line class="d db" x1="812" y1="1498.3" x2="812" y2="1441"/>
<line class="d db" x1="854.2" y1="1441" x2="854.2" y2="1498.3"/><line class="d db" x1="860.2" y1="1498.3" x2="860.2" y2="1441"/>
<line class="e b" x1="617.4" y1="1441" x2="665" y2="1498.3"/>
<line class="e b" x1="617.4" y1="1498.3" x2="665" y2="1441"/>
<line class="e b" x1="713.2" y1="1441" x2="665" y2="1498.3"/>
<line class="e b" x1="713.2" y1="1498.3" x2="665" y2="1441"/>
<line class="e b" x1="761.4" y1="1498.3" x2="809" y2="1441"/>
<line class="e b" x1="761.4" y1="1441" x2="809" y2="1498.3"/>
<line class="e b" x1="857.2" y1="1441" x2="809" y2="1498.3"/>
<line class="e b" x1="857.2" y1="1498.3" x2="809" y2="1441"/>
<path class="e b" d="M809,1441 C805,1395 680,1395 665,1441"/>
<line class="e b" x1="665" y1="1441" x2="809" y2="1498.3"/>
<path class="e b" d="M665,1498.3 C700,1470 760,1460 809,1441"/>
<path class="e b" d="M809,1498.3 C790,1460 700,1465 665,1498.3"/>
<line class="e b" x1="930.8" y1="1441" x2="979" y2="1441"/>
<line class="e b" x1="930.8" y1="1498.3" x2="979" y2="1498.3"/>
<line class="d db" x1="927.8" y1="1441" x2="927.8" y2="1498.3"/><line class="d db" x1="933.8" y1="1498.3" x2="933.8" y2="1441"/>
<line class="d db" x1="976" y1="1441" x2="976" y2="1498.3"/><line class="d db" x1="982" y1="1498.3" x2="982" y2="1441"/>
<line class="e b" x1="979" y1="1441" x2="930.8" y2="1498.3"/>
<line class="e b" x1="979" y1="1498.3" x2="930.8" y2="1441"/>
<path class="u" d="M930.8,1441 C915,1470 905,1520 912,1556"/>
<line class="u" x1="930.8" y1="1498.3" x2="912" y2="1556"/>
<path class="u" d="M979,1441 C995,1470 1005,1520 997.8,1556"/>
<line class="u" x1="979" y1="1498.3" x2="997.8" y2="1556"/>
<use href="#LB" x="912" y="1556"/><use href="#LB" x="997.8" y="1556"/>
</g>
<g id="nodes">
<g id="e7-1" class="nd"><circle cx="36.7" cy="14" r="10"/><text x="36.7" y="14" class="f8">1</text></g>
<g id="e7-2" class="nd"><circle cx="36.7" cy="53.3" r="10"/><text x="36.7" y="53.3" class="f8">1</text></g>
<g id="e7-3" class="nd"><circle cx="60" cy="90.7" r="10"/><text x="60" y="90.7" class="f8">2</text></g>
<g id="e7-4" class="nd"><circle cx="108.3" cy="129.3" r="10"/><text x="108.3" y="129.3" class="f8">3</text></g>
<g id="e7-5" class="nd"><circle cx="58.3" cy="167.7" r="10"/><text x="58.3" y="167.7" class="f8">2</text></g>
<g id="e7-6" class="nd"><circle cx="108.3" cy="206" r="10"/><text x="108.3" y="206" class="f8">3</text></g>
<g id="e7-7" class="nd"><circle cx="158.3" cy="245" r="10"/><text x="158.3" y="245" class="f8">4</text></g>
<g id="e7-8" class="nd"><circle cx="89" cy="283.3" r="10"/><text x="89" y="283.3" class="f8">2</text></g>
<g id="e7-9" class="nd"><circle cx="140" cy="321.7" r="10"/><text x="140" y="321.7" class="f8">4</text></g>
<g id="e7-10" class="nd"><circle cx="105" cy="359.3" r="10"/><text x="105" y="359.3" class="f8">2</text></g>
<g id="e7-11" class="nd"><circle cx="199.3" cy="360" r="10"/><text x="199.3" y="360" class="f8">3</text></g>
<g id="e7-12" class="nd"><circle cx="248.3" cy="398.3" r="10"/><text x="248.3" y="398.3" class="f8">2</text></g>
<g id="e7-13" class="nd"><circle cx="199.3" cy="436.7" r="10"/><text x="199.3" y="436.7" class="f8">3</text></g>
<g id="e7-14" class="nd"><circle cx="257.7" cy="436.7" r="10"/><text x="257.7" y="436.7" class="f8">1</text></g>
<g id="e7-15" class="nd"><circle cx="228.3" cy="475" r="10"/><text x="228.3" y="475" class="f8">2</text></g>
<g id="e7-16" class="nd"><circle cx="257.7" cy="513.3" r="10"/><text x="257.7" y="513.3" class="f8">1</text></g>
<g id="f42-1" class="nd"><circle cx="195" cy="14" r="10"/><text x="195" y="14" class="f8">6</text></g>
<g id="f42-2" class="nd"><circle cx="131.7" cy="53.3" r="10"/><text x="131.7" y="53.3" class="f8">4</text></g>
<g id="f42-3" class="nd"><circle cx="121.7" cy="90.7" r="10"/><text x="121.7" y="90.7" class="f8">2</text></g>
<g id="f42-4" class="nd"><circle cx="195" cy="53.3" r="10"/><text x="195" y="53.3" class="f8">4</text></g>
<g id="f42-5" class="nd"><circle cx="181" cy="90.7" r="10"/><text x="181" y="90.7" class="f8">2</text></g>
<g id="f42-6" class="nd"><circle cx="210" cy="129.3" r="10"/><text x="210" y="129.3" class="f8">4</text></g>
<g id="f42-7" class="nd"><circle cx="181" cy="167.7" r="10"/><text x="181" y="167.7" class="f8">2</text></g>
<g id="cd5-1" class="nd"><circle cx="477.7" cy="48.6" r="14.4"/><text x="477.7" y="48.6" class="f11">1</text></g>
<g id="cd5-2" class="nd"><circle cx="477.7" cy="106.1" r="14.4"/><text x="477.7" y="106.1" class="f11">1</text></g>
<g id="cd5-3" class="nd"><circle cx="442.7" cy="163.9" r="14.4"/><text x="442.7" y="163.9" class="f11">2</text></g>
<g id="cd5-4" class="nd"><circle cx="495.3" cy="221.4" r="14.4"/><text x="495.3" y="221.4" class="f11">2</text></g>
<g id="cd5-5" class="nd"><circle cx="361" cy="277.6" r="14.4"/><text x="361" y="277.6" class="f11">2</text></g>
<g id="cd5-6" class="nd"><circle cx="465.7" cy="277.6" r="14.4"/><text x="465.7" y="277.6" class="f11">1</text></g>
<g id="cd5-7" class="nd"><circle cx="361" cy="336.1" r="14.4"/><text x="361" y="336.1" class="f11">2</text></g>
<g id="cd5-8" class="nd"><circle cx="465.7" cy="336.1" r="14.4"/><text x="465.7" y="336.1" class="f11">1</text></g>
<g id="cd5-9" class="nd"><circle cx="394.3" cy="393.6" r="14.4"/><text x="394.3" y="393.6" class="f11">2</text></g>
<g id="cd5-10" class="nd"><circle cx="357.7" cy="450.4" r="14.4"/><text x="357.7" y="450.4" class="f11">2</text></g>
<g id="cd5-11" class="nd"><circle cx="376.3" cy="509" r="14.4"/><text x="376.3" y="509" class="f11">2</text></g>
<g id="f41-1" class="nd"><circle cx="605" cy="220.7" r="14.4"/><text x="605" y="220.7" class="f11">1</text></g>
<g id="f41-2" class="nd"><circle cx="605" cy="277.3" r="14.4"/><text x="605" y="277.3" class="f11">1</text></g>
<g id="f41-3" class="nd"><circle cx="640" cy="335.7" r="14.4"/><text x="640" y="335.7" class="f11">2</text></g>
<g id="f41-4" class="nd"><circle cx="712.7" cy="394" r="14.4"/><text x="712.7" y="394" class="f11">3</text></g>
<g id="f41-5" class="nd"><circle cx="637.7" cy="450.7" r="14.4"/><text x="637.7" y="450.7" class="f11">2</text></g>
<g id="f41-6" class="nd"><circle cx="712.7" cy="508.3" r="14.4"/><text x="712.7" y="508.3" class="f11">3</text></g>
<g id="f41-7" class="nd"><circle cx="755" cy="335.7" r="14.4"/><text x="755" y="335.7" class="f11">4</text></g>
<g id="f41-8" class="nd"><circle cx="755" cy="394" r="14.4"/><text x="755" y="394" class="f11">2</text></g>
<g id="cd4-1" class="nd"><circle cx="923.3" cy="220.7" r="14.4"/><text x="923.3" y="220.7" class="f11">1</text></g>
<g id="cd4-2" class="nd"><circle cx="923.3" cy="277.3" r="14.4"/><text x="923.3" y="277.3" class="f11">1</text></g>
<g id="cd4-3" class="nd"><circle cx="956.7" cy="336.7" r="14.4"/><text x="956.7" y="336.7" class="f11">2</text></g>
<g id="cd4-4" class="nd"><circle cx="920" cy="393.3" r="14.4"/><text x="920" y="393.3" class="f11">2</text></g>
<g id="cd4-5" class="nd"><circle cx="926.7" cy="451.7" r="14.4"/><text x="926.7" y="451.7" class="f11">1</text></g>
<g id="cd4-6" class="nd"><circle cx="908.3" cy="509.3" r="14.4"/><text x="908.3" y="509.3" class="f11">1</text></g>
<g id="cd4-7" class="nd"><circle cx="1023.3" cy="394" r="14.4"/><text x="1023.3" y="394" class="f11">2</text></g>
<g id="cd4-8" class="nd"><circle cx="1000.7" cy="451.7" r="14.4"/><text x="1000.7" y="451.7" class="f11">2</text></g>
<g id="cd4-9" class="nd"><circle cx="1000.7" cy="509.3" r="14.4"/><text x="1000.7" y="509.3" class="f11">2</text></g>
<g id="dt2-1" class="nd"><circle cx="1025" cy="221.7" r="14.4"/><text x="1025" y="221.7" class="f11">4</text></g>
<g id="dt2-2" class="nd"><circle cx="996" cy="278.3" r="14.4"/><text x="996" y="278.3" class="f11">2</text></g>
<g id="dt2-3" class="nd"><circle cx="1054" cy="278.3" r="14.4"/><text x="1054" y="278.3" class="f11">2</text></g>
<g id="e6-1" class="nd"><circle cx="35" cy="625" r="10"/><text x="35" y="625" class="f8">1</text></g>
<g id="e6-2" class="nd"><circle cx="35" cy="663.3" r="10"/><text x="35" y="663.3" class="f8">1</text></g>
<g id="e6-3" class="nd"><circle cx="35" cy="701.5" r="10"/><text x="35" y="701.5" class="f8">1</text></g>
<g id="e6-4" class="nd"><circle cx="110" cy="625" r="10"/><text x="110" y="625" class="f8">2</text></g>
<g id="e6-5" class="nd"><circle cx="108.5" cy="663.3" r="10"/><text x="108.5" y="663.3" class="f8">2</text></g>
<g id="e6-6" class="nd"><circle cx="110" cy="701.5" r="10"/><text x="110" y="701.5" class="f8">2</text></g>
<g id="e6-7" class="nd"><circle cx="195" cy="625" r="10"/><text x="195" y="625" class="f8">3</text></g>
<g id="e6-8" class="nd"><circle cx="195" cy="663.3" r="10"/><text x="195" y="663.3" class="f8">3</text></g>
<g id="e6-9" class="nd"><circle cx="195" cy="701.5" r="10"/><text x="195" y="701.5" class="f8">3</text></g>
<g id="e6-10" class="nd"><circle cx="283.5" cy="625" r="10"/><text x="283.5" y="625" class="f8">2</text></g>
<g id="e6-11" class="nd"><circle cx="294" cy="663.3" r="10"/><text x="294" y="663.3" class="f8">2</text></g>
<g id="e6-12" class="nd"><circle cx="289.3" cy="701.5" r="10"/><text x="289.3" y="701.5" class="f8">2</text></g>
<g id="e6-13" class="nd"><circle cx="333.9" cy="586.7" r="10"/><text x="333.9" y="586.7" class="f8">1</text></g>
<g id="e6-14" class="nd"><circle cx="333.9" cy="625" r="10"/><text x="333.9" y="625" class="f8">1</text></g>
<g id="e6-15" class="nd"><circle cx="333.9" cy="663.3" r="10"/><text x="333.9" y="663.3" class="f8">1</text></g>
<g id="e6-16" class="nd"><circle cx="407.5" cy="625" r="10"/><text x="407.5" y="625" class="f8">2</text></g>
<g id="e6-17" class="nd"><circle cx="403.8" cy="663.3" r="10"/><text x="403.8" y="663.3" class="f8">2</text></g>
<g id="e6-18" class="nd"><circle cx="402.8" cy="701.5" r="10"/><text x="402.8" y="701.5" class="f8">2</text></g>
<g id="e6-19" class="nd"><circle cx="452" cy="663.3" r="10"/><text x="452" y="663.3" class="f8">1</text></g>
<g id="e6-20" class="nd"><circle cx="452" cy="701.5" r="10"/><text x="452" y="701.5" class="f8">1</text></g>
<g id="e6-21" class="nd"><circle cx="452" cy="740" r="10"/><text x="452" y="740" class="f8">1</text></g>
<g id="g22a-1" class="nd"><circle cx="513.9" cy="586.7" r="10"/><text x="513.9" y="586.7" class="f8">6</text></g>
<g id="g22a-2" class="nd"><circle cx="459.7" cy="625" r="10"/><text x="459.7" y="625" class="f8">3</text></g>
<g id="g22a-3" class="nd"><circle cx="500.9" cy="625" r="10"/><text x="500.9" y="625" class="f8">3</text></g>
<g id="g22a-4" class="nd"><circle cx="511.7" cy="663.3" r="10"/><text x="511.7" y="663.3" class="f8">3</text></g>
<g id="g22a-5" class="nd"><circle cx="511.7" cy="701.5" r="10"/><text x="511.7" y="701.5" class="f8">3</text></g>
<g id="g22b-1" class="nd"><circle cx="611.4" cy="586.7" r="10"/><text x="611.4" y="586.7" class="f8">6</text></g>
<g id="g22b-2" class="nd"><circle cx="570.2" cy="625" r="10"/><text x="570.2" y="625" class="f8">3</text></g>
<g id="g22b-3" class="nd"><circle cx="609.3" cy="625" r="10"/><text x="609.3" y="625" class="f8">3</text></g>
<g id="g22b-4" class="nd"><circle cx="622.3" cy="663.3" r="10"/><text x="622.3" y="663.3" class="f8">3</text></g>
<g id="g22b-5" class="nd"><circle cx="622.3" cy="701.5" r="10"/><text x="622.3" y="701.5" class="f8">3</text></g>
<g id="d6-1" class="nd"><circle cx="708.2" cy="663.3" r="10"/><text x="708.2" y="663.3" class="f8">1</text></g>
<g id="d6-2" class="nd"><circle cx="740.2" cy="663.3" r="10"/><text x="740.2" y="663.3" class="f8">2</text></g>
<g id="d6-3" class="nd"><circle cx="773.4" cy="663.3" r="10"/><text x="773.4" y="663.3" class="f8">1</text></g>
<g id="d6-4" class="nd"><circle cx="803.7" cy="663.3" r="10"/><text x="803.7" y="663.3" class="f8">2</text></g>
<g id="d6-5" class="nd"><circle cx="835.7" cy="663.3" r="10"/><text x="835.7" y="663.3" class="f8">2</text></g>
<g id="d6-6" class="nd"><circle cx="917.4" cy="663.3" r="10"/><text x="917.4" y="663.3" class="f8">1</text></g>
<g id="d6-7" class="nd"><circle cx="708.2" cy="701" r="10"/><text x="708.2" y="701" class="f8">1</text></g>
<g id="d6-8" class="nd"><circle cx="740.2" cy="701" r="10"/><text x="740.2" y="701" class="f8">2</text></g>
<g id="d6-9" class="nd"><circle cx="773.4" cy="701" r="10"/><text x="773.4" y="701" class="f8">1</text></g>
<g id="d6-10" class="nd"><circle cx="803.7" cy="701" r="10"/><text x="803.7" y="701" class="f8">2</text></g>
<g id="d6-11" class="nd"><circle cx="835.7" cy="701" r="10"/><text x="835.7" y="701" class="f8">2</text></g>
<g id="d6-12" class="nd"><circle cx="868" cy="701" r="10"/><text x="868" y="701" class="f8">1</text></g>
<g id="d6-13" class="nd"><circle cx="917.4" cy="701" r="10"/><text x="917.4" y="701" class="f8">1</text></g>
<g id="d6-14" class="nd"><circle cx="868" cy="740" r="10"/><text x="868" y="740" class="f8">1</text></g>
<g id="c4-1" class="nd"><circle cx="958.1" cy="663.3" r="10"/><text x="958.1" y="663.3" class="f8">2</text></g>
<g id="c4-2" class="nd"><circle cx="1042.4" cy="663.3" r="10"/><text x="1042.4" y="663.3" class="f8">2</text></g>
<g id="c4-3" class="nd"><circle cx="966.4" cy="701" r="10"/><text x="966.4" y="701" class="f8">2</text></g>
<g id="c4-4" class="nd"><circle cx="998.4" cy="701" r="10"/><text x="998.4" y="701" class="f8">2</text></g>
<g id="c4-5" class="nd"><circle cx="1030" cy="701" r="10"/><text x="1030" y="701" class="f8">2</text></g>
<g id="c4-6" class="nd"><circle cx="966.4" cy="740" r="10"/><text x="966.4" y="740" class="f8">2</text></g>
<g id="c4-7" class="nd"><circle cx="998.4" cy="740" r="10"/><text x="998.4" y="740" class="f8">2</text></g>
<g id="c4-8" class="nd"><circle cx="1030" cy="740" r="10"/><text x="1030" y="740" class="f8">2</text></g>
<g id="bd3a-1" class="nd"><circle cx="1115.9" cy="663.3" r="10"/><text x="1115.9" y="663.3" class="f8">4</text></g>
<g id="bd3a-2" class="nd"><circle cx="1079.7" cy="701" r="10"/><text x="1079.7" y="701" class="f8">2</text></g>
<g id="bd3a-3" class="nd"><circle cx="1128.3" cy="701" r="10"/><text x="1128.3" y="701" class="f8">2</text></g>
<g id="bd3a-4" class="nd"><circle cx="1169.8" cy="701" r="10"/><text x="1169.8" y="701" class="f8">2</text></g>
<g id="bd3a-5" class="nd"><circle cx="1079.7" cy="740" r="10"/><text x="1079.7" y="740" class="f8">2</text></g>
<g id="bd3b-1" class="nd"><circle cx="1264.5" cy="663.3" r="10"/><text x="1264.5" y="663.3" class="f8">4</text></g>
<g id="bd3b-2" class="nd"><circle cx="1211.3" cy="701" r="10"/><text x="1211.3" y="701" class="f8">2</text></g>
<g id="bd3b-3" class="nd"><circle cx="1244.6" cy="701" r="10"/><text x="1244.6" y="701" class="f8">2</text></g>
<g id="bd3b-4" class="nd"><circle cx="1285.2" cy="701" r="10"/><text x="1285.2" y="701" class="f8">2</text></g>
<g id="bd3b-5" class="nd"><circle cx="1211.3" cy="740" r="10"/><text x="1211.3" y="740" class="f8">2</text></g>
<g id="cd25-1" class="nd"><circle cx="35.6" cy="833.3" r="10"/><text x="35.6" y="833.3" class="f8">1</text></g>
<g id="cd25-2" class="nd"><circle cx="35.6" cy="871" r="10"/><text x="35.6" y="871" class="f8">1</text></g>
<g id="cd25-3" class="nd"><circle cx="35.6" cy="909.3" r="10"/><text x="35.6" y="909.3" class="f8">1</text></g>
<g id="cd25-4" class="nd"><circle cx="35.6" cy="947.7" r="10"/><text x="35.6" y="947.7" class="f8">1</text></g>
<g id="cd25-5" class="nd"><circle cx="135.9" cy="833.3" r="10"/><text x="135.9" y="833.3" class="f8">2</text></g>
<g id="cd25-6" class="nd"><circle cx="135.9" cy="871" r="10"/><text x="135.9" y="871" class="f8">2</text></g>
<g id="cd25-7" class="nd"><circle cx="135.9" cy="909.3" r="10"/><text x="135.9" y="909.3" class="f8">2</text></g>
<g id="cd25-8" class="nd"><circle cx="135.9" cy="947.7" r="10"/><text x="135.9" y="947.7" class="f8">2</text></g>
<g id="cd25-9" class="nd"><circle cx="225" cy="871.7" r="10"/><text x="225" y="871.7" class="f8">1</text></g>
<g id="cd25-10" class="nd"><circle cx="225" cy="909.3" r="10"/><text x="225" y="909.3" class="f8">1</text></g>
<g id="cd25-11" class="nd"><circle cx="225" cy="947.7" r="10"/><text x="225" y="947.7" class="f8">1</text></g>
<g id="cd25-12" class="nd"><circle cx="225" cy="986" r="10"/><text x="225" y="986" class="f8">1</text></g>
<g id="cd25-13" class="nd"><circle cx="320.7" cy="833.3" r="10"/><text x="320.7" y="833.3" class="f8">2</text></g>
<g id="cd25-14" class="nd"><circle cx="324.5" cy="871" r="10"/><text x="324.5" y="871" class="f8">2</text></g>
<g id="cd25-15" class="nd"><circle cx="324.5" cy="909.3" r="10"/><text x="324.5" y="909.3" class="f8">2</text></g>
<g id="cd25-16" class="nd"><circle cx="320.7" cy="947.7" r="10"/><text x="320.7" y="947.7" class="f8">2</text></g>
<g id="cd25-17" class="nd"><circle cx="399.2" cy="871" r="10"/><text x="399.2" y="871" class="f8">2</text></g>
<g id="cd25-18" class="nd"><circle cx="394.2" cy="909.3" r="10"/><text x="394.2" y="909.3" class="f8">2</text></g>
<g id="cd25-19" class="nd"><circle cx="394.2" cy="947.7" r="10"/><text x="394.2" y="947.7" class="f8">2</text></g>
<g id="cd25-20" class="nd"><circle cx="399.2" cy="986" r="10"/><text x="399.2" y="986" class="f8">2</text></g>
<g id="cd25-21" class="nd"><circle cx="436.3" cy="909.3" r="10"/><text x="436.3" y="909.3" class="f8">2</text></g>
<g id="cd25-22" class="nd"><circle cx="436.3" cy="947.7" r="10"/><text x="436.3" y="947.7" class="f8">2</text></g>
<g id="bc2-1" class="nd"><circle cx="496.7" cy="833.3" r="10"/><text x="496.7" y="833.3" class="f8">2</text></g>
<g id="bc2-2" class="nd"><circle cx="496.7" cy="871" r="10"/><text x="496.7" y="871" class="f8">2</text></g>
<g id="bc2-3" class="nd"><circle cx="496.7" cy="909.3" r="10"/><text x="496.7" y="909.3" class="f8">2</text></g>
<g id="bc2-4" class="nd"><circle cx="496.7" cy="947.7" r="10"/><text x="496.7" y="947.7" class="f8">2</text></g>
<g id="bc2-5" class="nd"><circle cx="547.3" cy="871" r="10"/><text x="547.3" y="871" class="f8">4</text></g>
<g id="bc2-6" class="nd"><circle cx="547.3" cy="909.3" r="10"/><text x="547.3" y="909.3" class="f8">4</text></g>
<g id="bc2-7" class="nd"><circle cx="558.7" cy="947.7" r="10"/><text x="558.7" y="947.7" class="f8">4</text></g>
<g id="b7-1" class="nd"><circle cx="665.7" cy="818.3" r="14.4"/><text x="665.7" y="818.3" class="f11">2</text></g>
<g id="b7-2" class="nd"><circle cx="628.3" cy="876" r="14.4"/><text x="628.3" y="876" class="f11">1</text></g>
<g id="b7-3" class="nd"><circle cx="628.3" cy="933.3" r="14.4"/><text x="628.3" y="933.3" class="f11">1</text></g>
<g id="b7-4" class="nd"><circle cx="702.3" cy="876" r="14.4"/><text x="702.3" y="876" class="f11">2</text></g>
<g id="b7-5" class="nd"><circle cx="725" cy="818.3" r="14.4"/><text x="725" y="818.3" class="f11">2</text></g>
<g id="b7-6" class="nd"><circle cx="760" cy="876" r="14.4"/><text x="760" y="876" class="f11">2</text></g>
<g id="b7-7" class="nd"><circle cx="788.3" cy="818.3" r="14.4"/><text x="788.3" y="818.3" class="f11">2</text></g>
<g id="b7-8" class="nd"><circle cx="817.3" cy="876" r="14.4"/><text x="817.3" y="876" class="f11">2</text></g>
<g id="b7-9" class="nd"><circle cx="799" cy="933.3" r="14.4"/><text x="799" y="933.3" class="f11">1</text></g>
<g id="b7-10" class="nd"><circle cx="799" cy="990.7" r="14.4"/><text x="799" y="990.7" class="f11">1</text></g>
<g id="t6-1" class="nd"><circle cx="856.7" cy="818.3" r="14.4"/><text x="856.7" y="818.3" class="f11">2</text></g>
<g id="t6-2" class="nd"><circle cx="902.3" cy="876" r="14.4"/><text x="902.3" y="876" class="f11">2</text></g>
<g id="t6-3" class="nd"><circle cx="929" cy="818.3" r="14.4"/><text x="929" y="818.3" class="f11">2</text></g>
<g id="t6-4" class="nd"><circle cx="973.3" cy="876" r="14.4"/><text x="973.3" y="876" class="f11">2</text></g>
<g id="t6-5" class="nd"><circle cx="986.7" cy="818.3" r="14.4"/><text x="986.7" y="818.3" class="f11">2</text></g>
<g id="t6-6" class="nd"><circle cx="1037.3" cy="876" r="14.4"/><text x="1037.3" y="876" class="f11">2</text></g>
<g id="t6-7" class="nd"><circle cx="1044.3" cy="818.3" r="14.4"/><text x="1044.3" y="818.3" class="f11">2</text></g>
<g id="bt4-1" class="nd"><circle cx="20.6" cy="1066" r="14.4"/><text x="20.6" y="1066" class="f11">2</text></g>
<g id="bt4-2" class="nd"><circle cx="92.6" cy="1066" r="14.4"/><text x="92.6" y="1066" class="f11">2</text></g>
<g id="bt4-3" class="nd"><circle cx="27.2" cy="1123.3" r="14.4"/><text x="27.2" y="1123.3" class="f11">2</text></g>
<g id="bt4-4" class="nd"><circle cx="92.6" cy="1123.3" r="14.4"/><text x="92.6" y="1123.3" class="f11">2</text></g>
<g id="bt4-5" class="nd"><circle cx="75.1" cy="1181.7" r="14.4"/><text x="75.1" y="1181.7" class="f11">1</text></g>
<g id="bt4-6" class="nd"><circle cx="75.1" cy="1237.7" r="14.4"/><text x="75.1" y="1237.7" class="f11">1</text></g>
<g id="b6-1" class="nd"><circle cx="201.2" cy="1123.3" r="14.4"/><text x="201.2" y="1123.3" class="f11">2</text></g>
<g id="b6-2" class="nd"><circle cx="164.6" cy="1181.7" r="14.4"/><text x="164.6" y="1181.7" class="f11">1</text></g>
<g id="b6-3" class="nd"><circle cx="164.6" cy="1237.7" r="14.4"/><text x="164.6" y="1237.7" class="f11">1</text></g>
<g id="b6-4" class="nd"><circle cx="238.1" cy="1181.7" r="14.4"/><text x="238.1" y="1181.7" class="f11">2</text></g>
<g id="b6-5" class="nd"><circle cx="277" cy="1123.3" r="14.4"/><text x="277" y="1123.3" class="f11">2</text></g>
<g id="b6-6" class="nd"><circle cx="295.7" cy="1181.7" r="14.4"/><text x="295.7" y="1181.7" class="f11">2</text></g>
<g id="b6-7" class="nd"><circle cx="352.9" cy="1123.3" r="14.4"/><text x="352.9" y="1123.3" class="f11">2</text></g>
<g id="b6-8" class="nd"><circle cx="352.9" cy="1181.7" r="14.4"/><text x="352.9" y="1181.7" class="f11">1</text></g>
<g id="b6-9" class="nd"><circle cx="352.9" cy="1237.7" r="14.4"/><text x="352.9" y="1237.7" class="f11">1</text></g>
<g id="t5-1" class="nd"><circle cx="419.5" cy="1123.3" r="14.4"/><text x="419.5" y="1123.3" class="f11">2</text></g>
<g id="t5-2" class="nd"><circle cx="491" cy="1123.3" r="14.4"/><text x="491" y="1123.3" class="f11">2</text></g>
<g id="t5-3" class="nd"><circle cx="426.8" cy="1181.7" r="14.4"/><text x="426.8" y="1181.7" class="f11">2</text></g>
<g id="t5-4" class="nd"><circle cx="491" cy="1181.7" r="14.4"/><text x="491" y="1181.7" class="f11">2</text></g>
<g id="t5-5" class="nd"><circle cx="549.4" cy="1181.7" r="14.4"/><text x="549.4" y="1181.7" class="f11">2</text></g>
<g id="t5-6" class="nd"><circle cx="520.6" cy="1238.3" r="14.4"/><text x="520.6" y="1238.3" class="f11">2</text></g>
<g id="b5-1" class="nd"><circle cx="672.3" cy="1066" r="14.4"/><text x="672.3" y="1066" class="f11">2</text></g>
<g id="b5-2" class="nd"><circle cx="635.7" cy="1123.3" r="14.4"/><text x="635.7" y="1123.3" class="f11">1</text></g>
<g id="b5-3" class="nd"><circle cx="635.7" cy="1180.7" r="14.4"/><text x="635.7" y="1180.7" class="f11">1</text></g>
<g id="b5-4" class="nd"><circle cx="708.3" cy="1123.3" r="14.4"/><text x="708.3" y="1123.3" class="f11">2</text></g>
<g id="b5-5" class="nd"><circle cx="744" cy="1066" r="14.4"/><text x="744" y="1066" class="f11">2</text></g>
<g id="b5-6" class="nd"><circle cx="766.7" cy="1123.3" r="14.4"/><text x="766.7" y="1123.3" class="f11">2</text></g>
<g id="b5-7" class="nd"><circle cx="748.3" cy="1180.7" r="14.4"/><text x="748.3" y="1180.7" class="f11">1</text></g>
<g id="b5-8" class="nd"><circle cx="748.3" cy="1238.3" r="14.4"/><text x="748.3" y="1238.3" class="f11">1</text></g>
<g id="t4-1" class="nd"><circle cx="819.3" cy="1066" r="14.4"/><text x="819.3" y="1066" class="f11">2</text></g>
<g id="t4-2" class="nd"><circle cx="891.7" cy="1066" r="14.4"/><text x="891.7" y="1066" class="f11">2</text></g>
<g id="t4-3" class="nd"><circle cx="824" cy="1123.3" r="14.4"/><text x="824" y="1123.3" class="f11">2</text></g>
<g id="t4-4" class="nd"><circle cx="884.3" cy="1123.3" r="14.4"/><text x="884.3" y="1123.3" class="f11">2</text></g>
<g id="t4-5" class="nd"><circle cx="854.3" cy="1180.7" r="14.4"/><text x="854.3" y="1180.7" class="f11">2</text></g>
<g id="cd32-1" class="nd"><circle cx="50.2" cy="1383.3" r="14.4"/><text x="50.2" y="1383.3" class="f11">1</text></g>
<g id="cd32-2" class="nd"><circle cx="50.2" cy="1441" r="14.4"/><text x="50.2" y="1441" class="f11">1</text></g>
<g id="cd32-3" class="nd"><circle cx="50.2" cy="1498.3" r="14.4"/><text x="50.2" y="1498.3" class="f11">1</text></g>
<g id="cd32-4" class="nd"><circle cx="50.2" cy="1556" r="14.4"/><text x="50.2" y="1556" class="f11">1</text></g>
<g id="cd32-5" class="nd"><circle cx="199.6" cy="1383.3" r="14.4"/><text x="199.6" y="1383.3" class="f11">2</text></g>
<g id="cd32-6" class="nd"><circle cx="184.2" cy="1441" r="14.4"/><text x="184.2" y="1441" class="f11">2</text></g>
<g id="cd32-7" class="nd"><circle cx="199.6" cy="1498.3" r="14.4"/><text x="199.6" y="1498.3" class="f11">2</text></g>
<g id="cd32-8" class="nd"><circle cx="199.6" cy="1556" r="14.4"/><text x="199.6" y="1556" class="f11">2</text></g>
<g id="cd32-9" class="nd"><circle cx="247.8" cy="1441" r="14.4"/><text x="247.8" y="1441" class="f11">2</text></g>
<g id="cd32-10" class="nd"><circle cx="247.8" cy="1498.3" r="14.4"/><text x="247.8" y="1498.3" class="f11">2</text></g>
<g id="cd32-11" class="nd"><circle cx="383" cy="1326" r="14.4"/><text x="383" y="1326" class="f11">1</text></g>
<g id="cd32-12" class="nd"><circle cx="383" cy="1383.3" r="14.4"/><text x="383" y="1383.3" class="f11">1</text></g>
<g id="cd32-13" class="nd"><circle cx="383" cy="1441" r="14.4"/><text x="383" y="1441" class="f11">1</text></g>
<g id="cd32-14" class="nd"><circle cx="383" cy="1498.3" r="14.4"/><text x="383" y="1498.3" class="f11">1</text></g>
<g id="a11-1" class="nd"><circle cx="509" cy="1326" r="14.4"/><text x="509" y="1326" class="f11">4</text></g>
<g id="a11-2" class="nd"><circle cx="456.7" cy="1383.3" r="14.4"/><text x="456.7" y="1383.3" class="f11">2</text></g>
<g id="a11-3" class="nd"><circle cx="472.1" cy="1441" r="14.4"/><text x="472.1" y="1441" class="f11">2</text></g>
<g id="a11-4" class="nd"><circle cx="472.1" cy="1498.3" r="14.4"/><text x="472.1" y="1498.3" class="f11">2</text></g>
<g id="a11-5" class="nd"><circle cx="472.1" cy="1556" r="14.4"/><text x="472.1" y="1556" class="f11">2</text></g>
<g id="c3-1" class="nd"><circle cx="617.4" cy="1441" r="14.4"/><text x="617.4" y="1441" class="f11">1</text></g>
<g id="c3-2" class="nd"><circle cx="665" cy="1441" r="14.4"/><text x="665" y="1441" class="f11">2</text></g>
<g id="c3-3" class="nd"><circle cx="713.2" cy="1441" r="14.4"/><text x="713.2" y="1441" class="f11">1</text></g>
<g id="c3-4" class="nd"><circle cx="761.4" cy="1441" r="14.4"/><text x="761.4" y="1441" class="f11">1</text></g>
<g id="c3-5" class="nd"><circle cx="809" cy="1441" r="14.4"/><text x="809" y="1441" class="f11">2</text></g>
<g id="c3-6" class="nd"><circle cx="857.2" cy="1441" r="14.4"/><text x="857.2" y="1441" class="f11">1</text></g>
<g id="c3-7" class="nd"><circle cx="617.4" cy="1498.3" r="14.4"/><text x="617.4" y="1498.3" class="f11">1</text></g>
<g id="c3-8" class="nd"><circle cx="665" cy="1498.3" r="14.4"/><text x="665" y="1498.3" class="f11">2</text></g>
<g id="c3-9" class="nd"><circle cx="713.2" cy="1498.3" r="14.4"/><text x="713.2" y="1498.3" class="f11">1</text></g>
<g id="c3-10" class="nd"><circle cx="761.4" cy="1498.3" r="14.4"/><text x="761.4" y="1498.3" class="f11">1</text></g>
<g id="c3-11" class="nd"><circle cx="809" cy="1498.3" r="14.4"/><text x="809" y="1498.3" class="f11">2</text></g>
<g id="c3-12" class="nd"><circle cx="857.2" cy="1498.3" r="14.4"/><text x="857.2" y="1498.3" class="f11">1</text></g>
<g id="c3-13" class="nd"><circle cx="930.8" cy="1441" r="14.4"/><text x="930.8" y="1441" class="f11">2</text></g>
<g id="c3-14" class="nd"><circle cx="979" cy="1441" r="14.4"/><text x="979" y="1441" class="f11">2</text></g>
<g id="c3-15" class="nd"><circle cx="930.8" cy="1498.3" r="14.4"/><text x="930.8" y="1498.3" class="f11">2</text></g>
<g id="c3-16" class="nd"><circle cx="979" cy="1498.3" r="14.4"/><text x="979" y="1498.3" class="f11">2</text></g>
<g id="c3-17" class="nd"><circle cx="912" cy="1556" r="14.4"/><text x="912" y="1556" class="f11">2</text></g>
<g id="c3-18" class="nd"><circle cx="997.8" cy="1556" r="14.4"/><text x="997.8" y="1556" class="f11">2</text></g>
</g>
<g id="captions">
<text class="cap" x="147" y="557"><tspan class="i">E</tspan><tspan class="sb" dy="6">7</tspan><tspan class="sb" dx="-9" dy="-20">2</tspan><tspan dy="14"> and </tspan><tspan class="i">F</tspan><tspan class="sb" dy="6">42</tspan></text>
<text class="cap" x="422" y="557"><tspan class="i">CD</tspan><tspan class="sb" dy="6">5</tspan></text>
<text class="cap" x="691.5" y="557"><tspan class="i">F</tspan><tspan class="sb" dy="6">41</tspan></text>
<text class="cap" x="966" y="557"><tspan class="i">CD</tspan><tspan class="sb" dy="6">4</tspan><tspan dy="-6"> and </tspan><tspan class="i">DT</tspan><tspan class="sb" dy="6">2</tspan></text>
<text class="cap" x="334" y="793"><tspan class="i">E</tspan><tspan class="sb" dy="6">6</tspan><tspan class="sb" dx="-9" dy="-20">3</tspan><tspan dy="14"> and </tspan><tspan class="i">G</tspan><tspan class="sb" dy="6">22</tspan></text>
<text class="cap" x="1007.6" y="793"><tspan class="i">D</tspan><tspan class="sb" dy="6">6</tspan><tspan class="sb" dx="-9" dy="-20">2</tspan><tspan dy="14"> and </tspan><tspan class="i">C</tspan><tspan class="sb" dy="6">4</tspan><tspan dy="-6"> and </tspan><tspan class="i">BD</tspan><tspan class="sb" dy="6">3</tspan><tspan dy="-6"> and </tspan><tspan class="i">BD</tspan><tspan class="sb" dy="6">3</tspan></text>
<text class="cap" x="295.4" y="1038"><tspan class="i">CD</tspan><tspan class="sb" dy="6">2</tspan><tspan class="sb" dx="-9" dy="-20">5</tspan><tspan dy="14"> and </tspan><tspan class="i">BC</tspan><tspan class="sb" dy="6">2</tspan></text>
<text class="cap" x="850" y="1038"><tspan class="i">B</tspan><tspan class="sb" dy="6">7</tspan><tspan dy="-6"> and </tspan><tspan class="i">T</tspan><tspan class="sb" dy="6">6</tspan></text>
<text class="cap" x="64.3" y="1287"><tspan class="i">BT</tspan><tspan class="sb" dy="6">4</tspan></text>
<text class="cap" x="371" y="1287"><tspan class="i">B</tspan><tspan class="sb" dy="6">6</tspan><tspan dy="-6"> and </tspan><tspan class="i">T</tspan><tspan class="sb" dy="6">5</tspan></text>
<text class="cap" x="777.5" y="1287"><tspan class="i">B</tspan><tspan class="sb" dy="6">5</tspan><tspan dy="-6"> and </tspan><tspan class="i">T</tspan><tspan class="sb" dy="6">4</tspan></text>
<text class="cap" x="282" y="1617"><tspan class="i">CD</tspan><tspan class="sb" dy="6">3</tspan><tspan class="sb" dx="-9" dy="-20">2</tspan><tspan dy="14"> and </tspan><tspan class="i">A</tspan><tspan class="sb" dy="6">11</tspan></text>
<text class="cap" x="813.7" y="1617"><tspan class="i">C</tspan><tspan class="sb" dy="6">3</tspan></text>
</g>
</svg>
